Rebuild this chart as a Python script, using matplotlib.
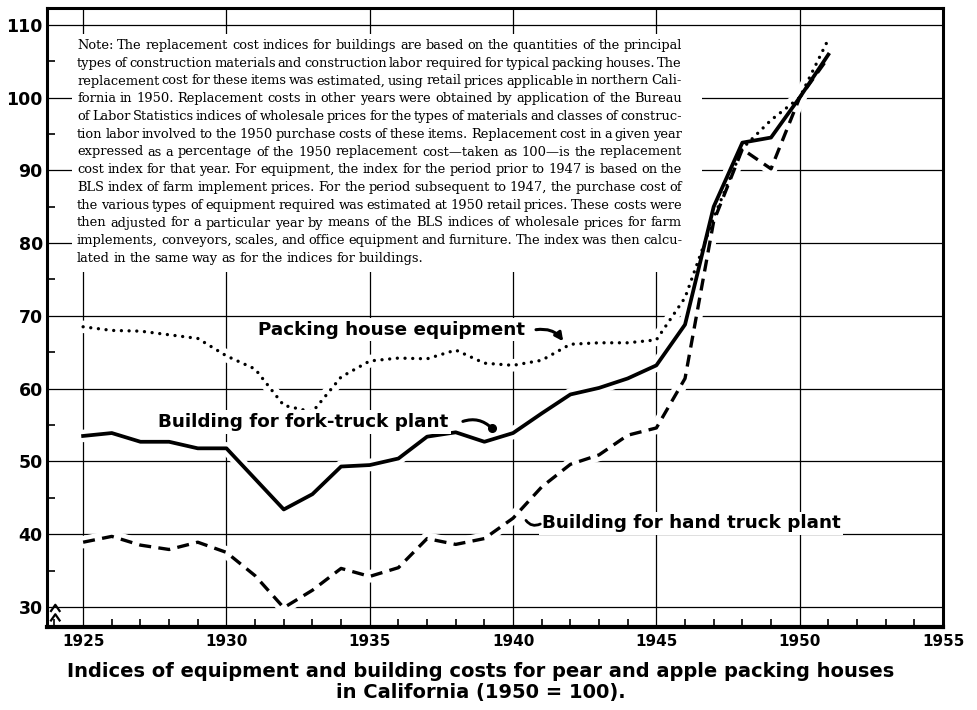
import matplotlib
matplotlib.use('Agg')
import matplotlib.pyplot as plt
from matplotlib.patches import Rectangle
from matplotlib.ticker import MultipleLocator

# data (index, 1950 = 100)
years = list(range(1925, 1952))
fork_truck = [53.5, 53.9, 52.7, 52.7, 51.8, 51.8, 47.6, 43.4, 45.5, 49.3,
              49.5, 50.4, 53.4, 54.0, 52.7, 53.9, 56.6, 59.2, 60.1, 61.4,
              63.2, 68.8, 85.0, 93.8, 94.5, 100.0, 105.9]
hand_truck = [38.9, 39.7, 38.5, 37.9, 38.9, 37.5, 34.3, 29.9, 32.3, 35.3,
              34.2, 35.4, 39.4, 38.6, 39.4, 42.2, 46.5, 49.6, 50.9, 53.6,
              54.6, 61.4, 83.0, 92.9, 90.2, 100.0, 105.5]
packing_equip = [68.5, 68.0, 67.9, 67.4, 66.9, 64.5, 62.7, 57.7, 56.8, 61.6,
                 63.8, 64.2, 64.1, 65.3, 63.5, 63.2, 63.9, 66.1, 66.3, 66.3,
                 66.7, 72.5, 83.5, 93.0, 96.9, 100.0, 108.0]

x_ticks = [1925, 1930, 1935, 1940, 1945, 1950, 1955]
y_ticks = [30, 40, 50, 60, 70, 80, 90, 100, 110]

note_lines = [
    "Note: The replacement cost indices for buildings are based on the quantities of the principal",
    "types of construction materials and construction labor required for typical packing houses. The",
    "replacement cost for these items was estimated, using retail prices applicable in northern Cali-",
    "fornia in 1950. Replacement costs in other years were obtained by application of the Bureau",
    "of Labor Statistics indices of wholesale prices for the types of materials and classes of construc-",
    "tion labor involved to the 1950 purchase costs of these items. Replacement cost in a given year",
    "expressed as a percentage of the 1950 replacement cost\u2014taken as 100\u2014is the replacement",
    "cost index for that year. For equipment, the index for the period prior to 1947 is based on the",
    "BLS index of farm implement prices. For the period subsequent to 1947, the purchase cost of",
    "the various types of equipment required was estimated at 1950 retail prices. These costs were",
    "then adjusted for a particular year by means of the BLS indices of wholesale prices for farm",
    "implements, conveyors, scales, and office equipment and furniture. The index was then calcu-",
    "lated in the same way as for the indices for buildings.",
]

caption = ("Indices of equipment and building costs for pear and apple packing houses\n"
           "in California (1950 = 100).")

BOLD = ['DejaVu Sans']
SERIF = ['DejaVu Serif']
NOTE_SIZE = 9.4

W, H = 978, 710
fig = plt.figure(figsize=(W / 100, H / 100), dpi=100)
ax = fig.add_axes([47 / W, 1 - 627 / H, (943 - 47) / W, (627 - 8) / H])

ax.set_xlim(1923.74, 1955)
ax.set_ylim(27.25, 112.3)

# grid
ax.set_xticks(x_ticks)
ax.set_yticks(y_ticks)
ax.xaxis.set_minor_locator(MultipleLocator(1))
ax.yaxis.set_minor_locator(MultipleLocator(5))
ax.grid(True, which='major', color='black', linewidth=0.9, zorder=1)
ax.set_axisbelow(True)
ax.tick_params(axis='both', which='major', length=0)
ax.tick_params(axis='x', which='minor', direction='in', length=6, width=1.2)
ax.tick_params(axis='y', which='minor', direction='in', length=6, width=1.2)
ax.tick_params(axis='x', which='major', pad=5)
ax.tick_params(axis='y', which='major', pad=3)
for lab in ax.get_xticklabels():
    lab.set_family(BOLD)
    lab.set_weight('bold')
    lab.set_fontsize(11)
for lab in ax.get_yticklabels():
    lab.set_family(BOLD)
    lab.set_weight('bold')
    lab.set_fontsize(12.5)
for side in ['left', 'right', 'top']:
    ax.spines[side].set_linewidth(2.2)
ax.spines['bottom'].set_linewidth(3.0)

# white area behind the note
ax.add_patch(Rectangle((1924.6, 76.0), 22.0, 32.7, facecolor='white',
                       edgecolor='none', zorder=1.5))

# white halos so grid lines break around the curves
for s in [fork_truck, hand_truck, packing_equip]:
    ax.plot(years, s, color='white', linewidth=9, solid_capstyle='round', zorder=2)

ax.plot(years, fork_truck, color='black', linewidth=2.7, zorder=3)
ax.plot(years, hand_truck, color='black', linewidth=2.4, linestyle=(0, (3.6, 2.2)), zorder=3)
ax.plot(years, packing_equip, color='black', linewidth=2.4,
        linestyle=(0, (0.01, 2.3)), dash_capstyle='round', zorder=3)

# series labels
lab_kw = dict(family=BOLD, weight='bold', fontsize=13.2, va='center', zorder=4,
              bbox=dict(facecolor='white', edgecolor='none', pad=2))
ax.text(1931.1, 68.1, "Packing house equipment", ha='left', **lab_kw)
ax.text(1927.6, 55.4, "Building for fork-truck plant", ha='left', **lab_kw)
ax.text(1941.0, 41.5, "Building for hand truck plant", ha='left', **lab_kw)

ax.annotate("", xy=(1941.75, 66.5), xytext=(1940.8, 68.1),
            arrowprops=dict(arrowstyle='-|>', color='black', lw=2.2,
                            connectionstyle='arc3,rad=-0.3', mutation_scale=12,
                            shrinkA=0, shrinkB=0), zorder=4)
ax.annotate("", xy=(1939.25, 54.6), xytext=(1938.25, 55.5),
            arrowprops=dict(arrowstyle='-', color='black', lw=2.2,
                            connectionstyle='arc3,rad=-0.3',
                            shrinkA=0, shrinkB=0), zorder=4)
ax.plot([1939.25], [54.6], 'o', color='black', markersize=5.5, zorder=4)
ax.annotate("", xy=(1940.95, 41.4), xytext=(1940.45, 41.9),
            arrowprops=dict(arrowstyle='-', color='black', lw=2.0,
                            connectionstyle='arc3,rad=0.4',
                            shrinkA=0, shrinkB=0), zorder=4)

# axis break marks near 30
for yb in [30.0, 28.7]:
    ax.plot([1923.88, 1924.03, 1924.18], [yb - 0.55, yb + 0.3, yb - 0.55],
            color='black', linewidth=1.6, clip_on=False, zorder=5)

# justified note text
renderer = fig.canvas.get_renderer()
left_px, right_px = 77, 682
for i, line in enumerate(note_lines):
    base = H - (49 + i * 17.75)
    words = line.split(' ')
    texts = [fig.text(0, base / H, w, family=SERIF, fontsize=NOTE_SIZE,
                      va='baseline', ha='left', zorder=5) for w in words]
    widths = [t.get_window_extent(renderer).width for t in texts]
    if i == len(note_lines) - 1:
        gap = 3.5
    else:
        gap = (right_px - left_px - sum(widths)) / (len(words) - 1)
    xp = left_px
    for t, wd in zip(texts, widths):
        t.set_x(xp / W)
        xp += wd + gap

fig.text(481 / W, 1 - 682 / H, caption, family=BOLD, weight='bold',
         fontsize=14.0, ha='center', va='center', linespacing=1.1)

plt.savefig('out.png', dpi=100)
